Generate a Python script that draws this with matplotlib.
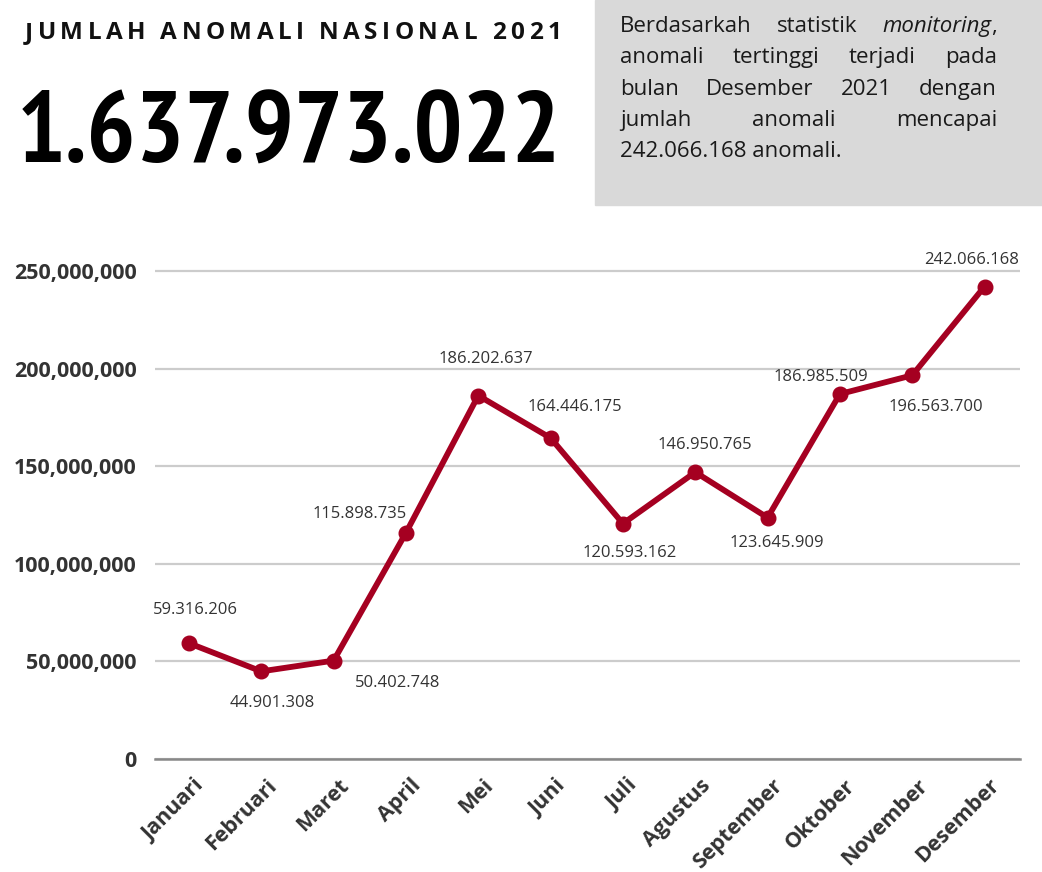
import matplotlib
matplotlib.use("Agg")
import matplotlib.pyplot as plt
import matplotlib.transforms as mtransforms
from matplotlib import font_manager
from matplotlib.textpath import TextPath
from matplotlib.patches import Rectangle
from matplotlib.ticker import FuncFormatter

# data
bulan = ["Januari", "Februari", "Maret", "April", "Mei", "Juni", "Juli",
         "Agustus", "September", "Oktober", "November", "Desember"]
anomali = [59316206, 44901308, 50402748, 115898735, 186202637, 164446175,
           120593162, 146950765, 123645909, 186985509, 196563700, 242066168]
total = "1.637.973.022"
judul = "JUMLAH ANOMALI NASIONAL 2021"
y_ticks = [0, 50000000, 100000000, 150000000, 200000000, 250000000]

# label offsets in pixels (dx, dy) relative to the point, dy positive = up
lbl_off = [(6.5, 33), (11, -32), (63.5, -22), (-46, 19), (7.5, 37), (24, 31),
           (7, -29), (9.5, 27), (9, -25), (-19, 17), (24, -32), (-13, 27)]

# paragraph, as lines of words; each word a list of (text, style)
paragraf = [
    [[("Berdasarkah", "normal")], [("statistik", "normal")],
     [("monitoring", "italic"), (",", "normal")]],
    [[("anomali", "normal")], [("tertinggi", "normal")], [("terjadi", "normal")], [("pada", "normal")]],
    [[("bulan", "normal")], [("Desember", "normal")], [("2021", "normal")], [("dengan", "normal")]],
    [[("jumlah", "normal")], [("anomali", "normal")], [("mencapai", "normal")]],
    [[("242.066.168 anomali.", "normal")]],
]

W, H = 1042, 872
FONT = "Open Sans"
RED = "#a50021"
DARK = "#333333"

# big number box in pixels: x 25..557, digits 83..163 high
BIG_W, BIG_H = 532, 80

# pick the heavy sans face whose shape fits that box best
best = None
for f in font_manager.fontManager.ttflist:
    nm = (f.name + " " + f.fname).lower()
    wt = f.weight if isinstance(f.weight, int) else {"bold": 700, "heavy": 800, "black": 900,
                                                      "extra bold": 800}.get(f.weight, 400)
    if wt < 700 or f.style != "normal":
        continue
    if any(k in nm for k in ("italic", "mono", "cjk", "serif", "display", "math")):
        continue
    if not any(k in nm for k in ("sans", "roboto", "inter", "lato", "oswald")):
        continue
    try:
        fp_c = font_manager.FontProperties(fname=f.fname)
        ext = TextPath((0, 0), total, size=100, prop=fp_c).get_extents()
    except Exception:
        continue
    if ext.height <= 0 or ext.y0 < -2:
        continue
    diff = abs(ext.width / ext.height - BIG_W / BIG_H)
    if best is None or diff < best[0]:
        best = (diff, f.fname, ext.width, ext.height, ext.x0)

fig = plt.figure(figsize=(W / 100, H / 100), dpi=100)
rend = fig.canvas.get_renderer()


def fx(px):
    return px / W


def fy(py):
    return 1 - py / H


def width_of(s, **kw):
    t = fig.text(0, 0, s, **kw)
    w = t.get_window_extent(rend).width
    t.remove()
    return w


# grey box top right
fig.patches.append(Rectangle((fx(595), fy(205)), fx(W - 595), 205 / H,
                             transform=fig.transFigure, color="#d9d9d9", zorder=0))

# title with letter spacing
tkw = dict(fontsize=17.5, fontweight="bold", family=FONT, color="#111111")
sp_w = width_of("a a", **tkw) - width_of("aa", **tkw)
cw = [sp_w if c == " " else width_of(c, **tkw) for c in judul]
track = (561 - 25 - sum(cw)) / (len(judul) - 1)
x = 25
for c, w in zip(judul, cw):
    if c != " ":
        fig.text(fx(x), fy(39), c, va="baseline", ha="left", **tkw)
    x += w + track

# big number
if best is not None:
    fp = font_manager.FontProperties(fname=best[1])
    size = BIG_H * 72 / best[3]
    size = min(size, BIG_W * 72 / best[2])
    bearing = best[4] * size / 72
else:
    fp = font_manager.FontProperties(family="DejaVu Sans", weight="bold")
    size = 60
    bearing = 0
fp.set_size(size)
fig.text(fx(25 - bearing - 3), fy(163), total, va="baseline", ha="left", fontproperties=fp, color="black")

# justified paragraph
pkw = dict(fontsize=16, family=FONT, color="#1a1a1a")
x0, x1 = 620, 997
baselines = [32, 63, 95, 126, 157]
for li, (line, yb) in enumerate(zip(paragraf, baselines)):
    ww = [sum(width_of(s, fontstyle=st, **pkw) for s, st in word) for word in line]
    if li == len(paragraf) - 1 or len(line) == 1:
        gap = 0
    else:
        gap = (x1 - x0 - sum(ww)) / (len(line) - 1)
    x = x0
    for word, w in zip(line, ww):
        xs = x
        for s, st in word:
            fig.text(fx(xs), fy(yb), s, fontstyle=st, va="baseline", ha="left", **pkw)
            xs += width_of(s, fontstyle=st, **pkw)
        x += w + gap

# chart
ax = fig.add_axes([fx(155), fy(759), fx(1020) - fx(155), (759 - 251.5) / H])
xs = list(range(len(bulan)))
ax.plot(xs, anomali, color=RED, lw=4.2, marker="o", ms=10.5, zorder=3, clip_on=False)
ax.set_xlim(-0.47, 11.49)
ax.set_ylim(0, 260000000)
ax.set_yticks(y_ticks)
ax.yaxis.set_major_formatter(FuncFormatter(lambda v, p: "0" if v == 0 else f"{int(v):,}"))
ax.grid(axis="y", color="#cccccc", lw=1.6)
ax.set_axisbelow(True)
for s in ["top", "right", "left"]:
    ax.spines[s].set_visible(False)
ax.spines["bottom"].set_color("#888888")
ax.spines["bottom"].set_linewidth(1.8)
ax.tick_params(axis="both", length=0)
ax.tick_params(axis="y", pad=13)
ax.tick_params(axis="x", pad=17)
ax.set_xticks(xs)
ax.set_xticklabels(bulan)
for t in ax.get_yticklabels():
    t.set_fontfamily(FONT)
    t.set_fontweight("bold")
    t.set_fontsize(15.5)
    t.set_color(DARK)
shift = mtransforms.ScaledTranslation(12 / 100, 0, fig.dpi_scale_trans)
for t in ax.get_xticklabels():
    t.set_fontfamily(FONT)
    t.set_fontweight("bold")
    t.set_fontsize(15.5)
    t.set_color(DARK)
    t.set_rotation(45)
    t.set_ha("right")
    t.set_va("center")
    t.set_rotation_mode("anchor")
    t.set_transform(t.get_transform() + shift)

for i, v in enumerate(anomali):
    dx, dy = lbl_off[i]
    ax.annotate(f"{v:,}".replace(",", "."), (i, v), xytext=(dx * 0.72, dy * 0.72),
                textcoords="offset points", ha="center", va="center",
                fontsize=12, family=FONT, color=DARK, annotation_clip=False)

fig.savefig("out.png", dpi=100)
